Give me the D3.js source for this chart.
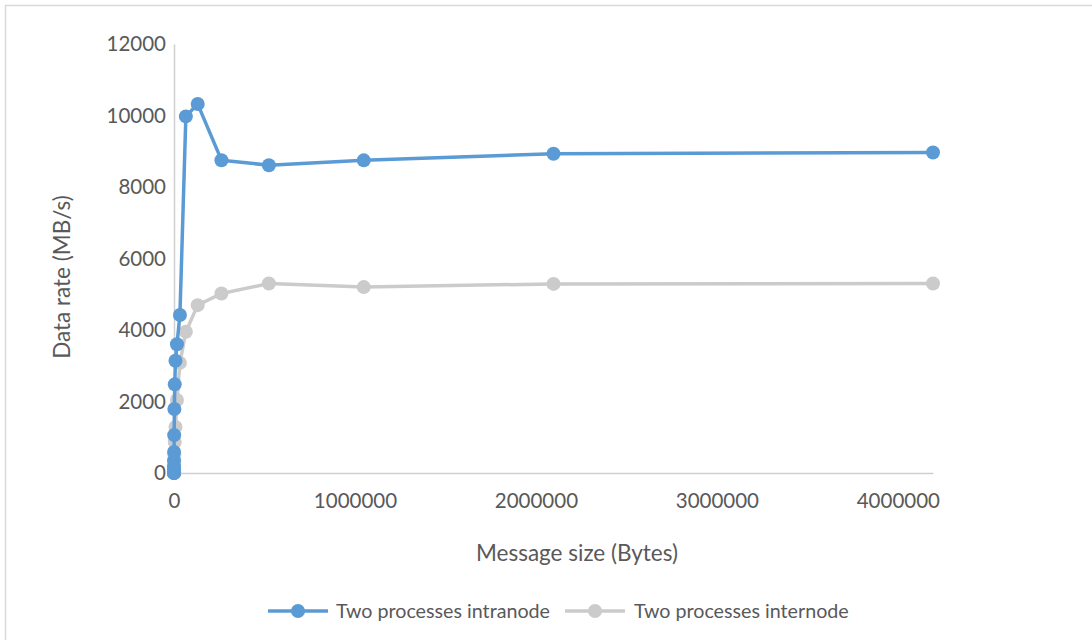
<!DOCTYPE html>
<html>
<head>
<meta charset="utf-8">
<script src="https://cdn.jsdelivr.net/npm/d3@7"></script>
<style>
  html, body { margin: 0; padding: 0; background: #fff; }
  svg { display: block; font-family: Lato, "Open Sans", sans-serif; }
</style>
</head>
<body>
<svg id="chart" width="1092" height="640"></svg>
<script>
// Message sizes in bytes (powers of two, 1 B .. 4 MiB)
const messageSizes = [1, 2, 4, 8, 16, 32, 64, 128, 256, 512, 1024, 2048, 4096,
  8192, 16384, 32768, 65536, 131072, 262144, 524288, 1048576, 2097152, 4194304];

// Measured data rate (MB/s), two processes on the same node
const intranodeRates = [1.5, 3, 6, 12, 24, 48, 95, 185, 350, 590, 1060, 1790, 2480,
  3140, 3600, 4420, 9975, 10320, 8750, 8610, 8745, 8930, 8965];

// Measured data rate (MB/s), two processes on different nodes
const internodeRates = [0.5, 1, 2, 4, 8, 16, 32, 65, 125, 180, 300, 520, 870,
  1290, 2040, 3080, 3950, 4695, 5020, 5300, 5200, 5290, 5300];

const xTicks = [0, 1000000, 2000000, 3000000, 4000000];
const yTicks = [0, 2000, 4000, 6000, 8000, 10000, 12000];

const seriesNames = ["Two processes intranode", "Two processes internode"];
const seriesColors = ["#5B9BD5", "#CBCBCB"];

const svg = d3.select("#chart");

// Outer chart frame
svg.append("rect")
  .attr("x", 5.5).attr("y", 5.5)
  .attr("width", 1200).attr("height", 700)
  .attr("fill", "none").attr("stroke", "#D9D9D9").attr("stroke-width", 1.5);

const x = d3.scaleLinear().domain([0, 4194304]).range([174, 933]);
const y = d3.scaleLinear().domain([0, 12000]).range([473, 44]);

// Axes
const xAxis = svg.append("g").attr("transform", `translate(0,${y(0)})`)
  .call(d3.axisBottom(x).tickValues(xTicks).tickFormat(d3.format("d")).tickSize(0).tickPadding(20));
const yAxis = svg.append("g").attr("transform", `translate(${x(0)},0)`)
  .call(d3.axisLeft(y).tickValues(yTicks).tickFormat(d3.format("d")).tickSize(0).tickPadding(8));

[xAxis, yAxis].forEach(g => {
  g.select(".domain").attr("stroke", "#D0D0D0").attr("stroke-width", 1.5);
  g.selectAll("text").attr("fill", "#595959").style("font-size", "20.5px")
    .style("font-family", "Lato, 'Open Sans', sans-serif");
});

// Axis titles
svg.append("text")
  .attr("x", 577).attr("y", 561)
  .attr("text-anchor", "middle")
  .attr("fill", "#595959").style("font-size", "22.5px")
  .text("Message size (Bytes)");

svg.append("text")
  .attr("transform", "translate(70,277) rotate(-90)")
  .attr("text-anchor", "middle")
  .attr("fill", "#595959").style("font-size", "22.5px")
  .text("Data rate (MB/s)");

// Series
const series = [
  messageSizes.map((s, i) => ({ x: s, y: intranodeRates[i] })),
  messageSizes.map((s, i) => ({ x: s, y: internodeRates[i] }))
];

const line = d3.line().x(d => x(d.x)).y(d => y(d.y));

// Draw internode first so the intranode series sits on top
[1, 0].forEach(k => {
  const g = svg.append("g");
  g.append("path")
    .datum(series[k])
    .attr("d", line)
    .attr("fill", "none")
    .attr("stroke", seriesColors[k])
    .attr("stroke-width", 3.5)
    .attr("stroke-linejoin", "round");
  g.selectAll("circle")
    .data(series[k])
    .join("circle")
    .attr("cx", d => x(d.x))
    .attr("cy", d => y(d.y))
    .attr("r", 7)
    .attr("fill", seriesColors[k]);
});

// Legend
const legend = svg.append("g");
const legendItems = [
  { x0: 268, textX: 336 },
  { x0: 565, textX: 634 }
];
legendItems.forEach((it, k) => {
  const ly = 611;
  legend.append("line")
    .attr("x1", it.x0).attr("x2", it.x0 + 60)
    .attr("y1", ly).attr("y2", ly)
    .attr("stroke", seriesColors[k]).attr("stroke-width", 3.5);
  legend.append("circle")
    .attr("cx", it.x0 + 30).attr("cy", ly).attr("r", 7)
    .attr("fill", seriesColors[k]);
  legend.append("text")
    .attr("x", it.textX).attr("y", ly)
    .attr("dy", "0.35em")
    .attr("fill", "#595959").style("font-size", "19.7px")
    .text(seriesNames[k]);
});
</script>
</body>
</html>
